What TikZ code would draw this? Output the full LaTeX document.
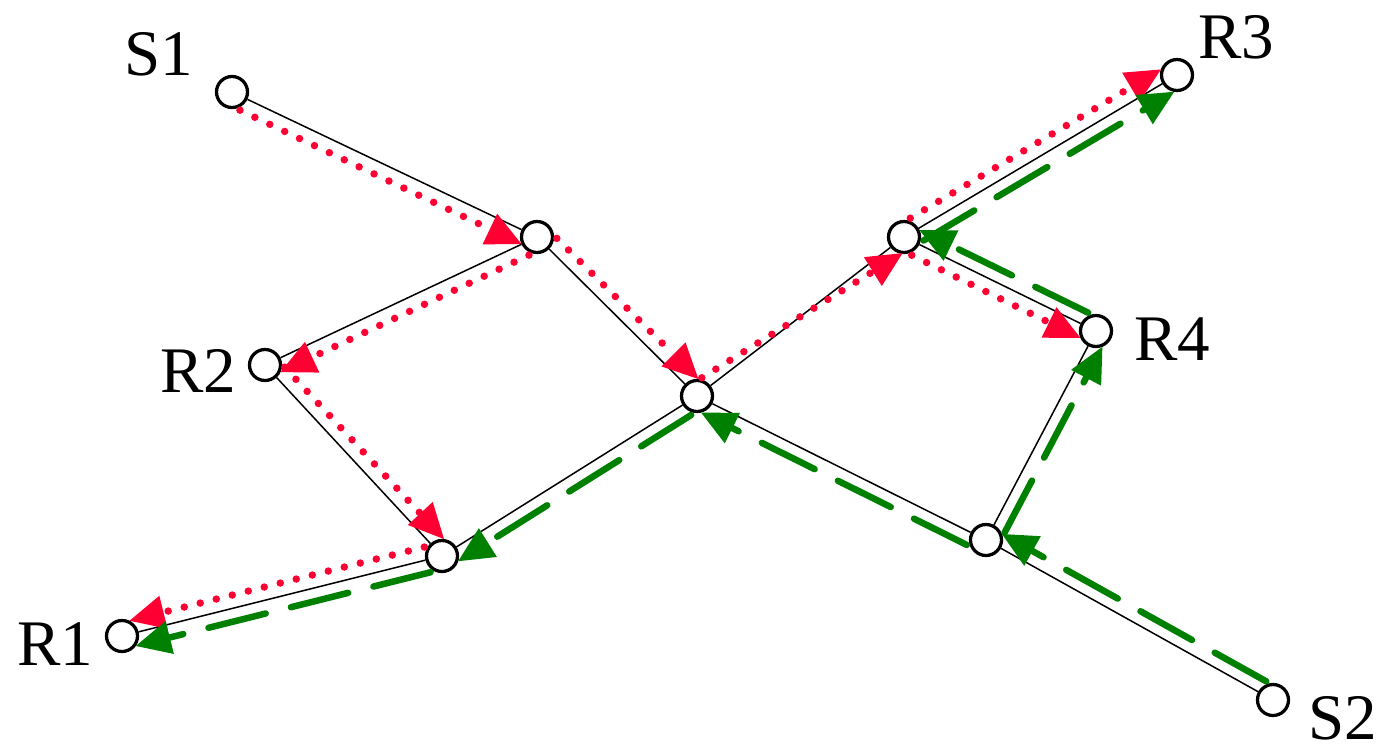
\documentclass[tikz,border=0pt]{standalone}
\usepackage{fontspec}
\setmainfont{Liberation Serif}
\usepackage{tikz}
\usetikzlibrary{arrows.meta, calc}
\definecolor{pathred}{HTML}{FF0033}
\definecolor{pathgreen}{HTML}{008000}

\begin{document}
\begin{tikzpicture}[
  x=0.02cm, y=-0.02cm,
  router/.style={draw, circle, fill=white, line width=0.065cm, minimum size=0.62cm, inner sep=0pt},
  tag/.style={inner sep=0pt, font=\fontsize{37}{40}\selectfont},
  link/.style={line width=0.03cm, black},
  redpath/.style={pathred, line width=0.15cm, line cap=round, dash pattern=on 0pt off 0.33cm,
    -{Triangle[length=0.7cm, width=0.68cm, line width=0pt]}, shorten <=0.3cm, shorten >=0.22cm},
  greenpath/.style={pathgreen, line width=0.13cm, line cap=round, dash pattern=on 1.18cm off 0.52cm,
    -{Triangle[length=0.7cm, width=0.68cm, line width=0pt]}, shorten <=0.3cm, shorten >=0.22cm}
]
\useasboundingbox (0,0) rectangle (1387,752);

% Routers
\node[router] (s1) at (232,92) {};
\node[router] (a)  at (537,237) {};
\node[router] (r2) at (265,365) {};
\node[router] (c)  at (697,396) {};
\node[router] (b)  at (442,556) {};
\node[router] (r1) at (122,636) {};
\node[router] (d)  at (904,237) {};
\node[router] (r3) at (1177,75) {};
\node[router] (r4) at (1096,331) {};
\node[router] (e)  at (986,540) {};
\node[router] (s2) at (1273,700) {};

% Names
\node[tag] (s1-tag) at (159,54) {S1};
\node[tag] (r3-tag) at (1236,37) {R3};
\node[tag] (r2-tag) at (198,371) {R2};
\node[tag] (r4-tag) at (1172,339) {R4};
\node[tag] (r1-tag) at (55,644) {R1};
\node[tag] (s2-tag) at (1343,718) {S2};

% Links
\draw[link] (s1) -- (a);
\draw[link] (a) -- (r2);
\draw[link] (a) -- (c);
\draw[link] (r2) -- (b);
\draw[link] (c) -- (b);
\draw[link] (b) -- (r1);
\draw[link] (c) -- (d);
\draw[link] (d) -- (r3);
\draw[link] (d) -- (r4);
\draw[link] (c) -- (e);
\draw[link] (e) -- (r4);
\draw[link] (e) -- (s2);

% Tree from S1 (dotted)
\draw[redpath] ($(s1)!0.26cm!-90:(a)$) -- ($(a)!0.26cm!90:(s1)$);
\draw[redpath] ($(a)!0.26cm!90:(r2)$) -- ($(r2)!0.26cm!-90:(a)$);
\draw[redpath] ($(a)!0.26cm!90:(c)$) -- ($(c)!0.26cm!-90:(a)$);
\draw[redpath] ($(r2)!0.26cm!90:(b)$) -- ($(b)!0.26cm!-90:(r2)$);
\draw[redpath] ($(b)!0.26cm!-90:(r1)$) -- ($(r1)!0.26cm!90:(b)$);
\draw[redpath] ($(c)!0.26cm!90:(d)$) -- ($(d)!0.26cm!90:(c)$);
\draw[redpath] ($(d)!0.26cm!90:(r3)$) -- ($(r3)!0.26cm!-90:(d)$);
\draw[redpath] ($(d)!0.26cm!-90:(r4)$) -- ($(r4)!0.26cm!90:(d)$);

% Tree from S2 (dashed)
\draw[greenpath] ($(s2)!0.26cm!-90:(e)$) -- ($(e)!0.26cm!90:(s2)$);
\draw[greenpath] ($(e)!0.26cm!90:(c)$) -- ($(c)!0.26cm!-90:(e)$);
\draw[greenpath] ($(c)!0.26cm!90:(b)$) -- ($(b)!0.26cm!-90:(c)$);
\draw[greenpath] ($(b)!0.26cm!90:(r1)$) -- ($(r1)!0.26cm!-90:(b)$);
\draw[greenpath] ($(e)!0.26cm!-90:(r4)$) -- ($(r4)!0.26cm!90:(e)$);
\draw[greenpath] ($(r4)!0.26cm!-90:(d)$) -- ($(d)!0.26cm!90:(r4)$);
\draw[greenpath] ($(d)!0.26cm!-90:(r3)$) -- ($(r3)!0.26cm!90:(d)$);

\end{tikzpicture}
\end{document}
